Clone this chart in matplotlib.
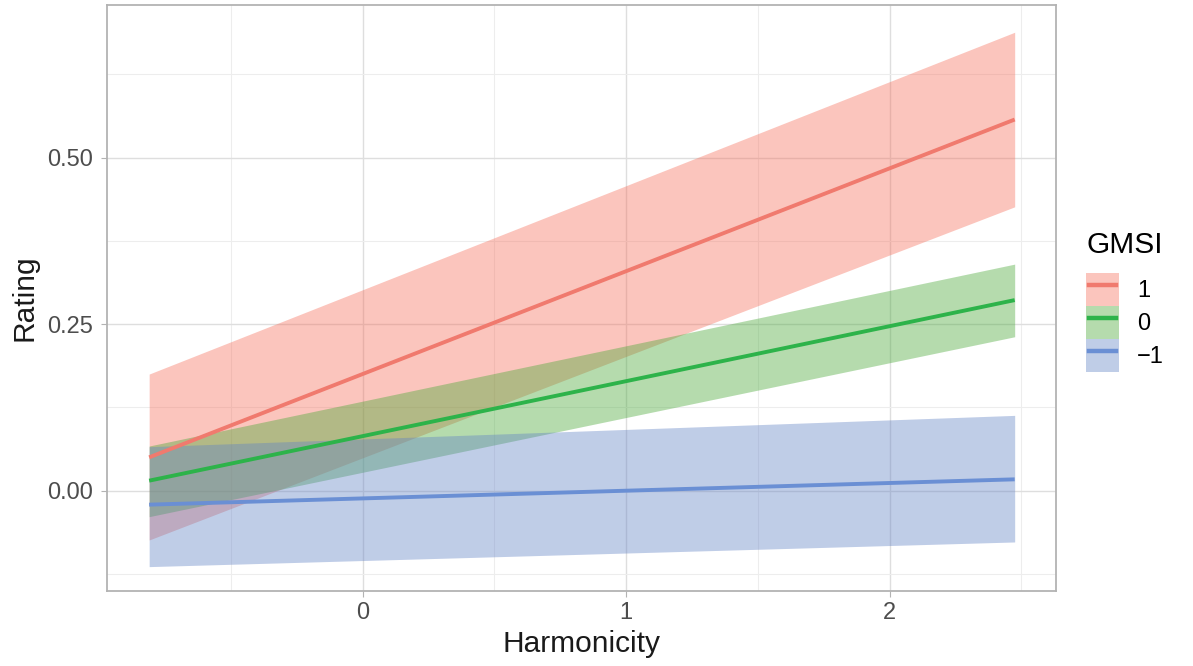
import matplotlib
matplotlib.use("Agg")
import matplotlib.pyplot as plt
from matplotlib.patches import Patch
from matplotlib.lines import Line2D
from matplotlib.legend_handler import HandlerLine2D
from matplotlib.ticker import MultipleLocator

plt.rcParams['font.family'] = ['Liberation Sans', 'DejaVu Sans']

# Data
harmonicity = [-0.81, 2.475]
groups = ["1", "0", "\u22121"]
fit_1 = [0.050, 0.557]
lo_1 = [-0.074, 0.426]
hi_1 = [0.175, 0.688]
fit_0 = [0.015, 0.286]
lo_0 = [-0.039, 0.231]
hi_0 = [0.067, 0.340]
fit_m1 = [-0.021, 0.017]
lo_m1 = [-0.114, -0.077]
hi_m1 = [0.066, 0.113]

fits = [fit_1, fit_0, fit_m1]
los = [lo_1, lo_0, lo_m1]
his = [hi_1, hi_0, hi_m1]
line_colors = ["#F07A6E", "#2DB34A", "#6A8FD4"]
band_colors = ["#F76E5A", "#46A734", "#6182C5"]
band_alpha = 0.4

fig = plt.figure(figsize=(11.93, 6.66), dpi=100)
ax = fig.add_axes([0.0897, 0.1126, 0.7955, 0.88])

for f, lo, hi, lc, bc in zip(fits, los, his, line_colors, band_colors):
    ax.fill_between(harmonicity, lo, hi, color=bc, alpha=band_alpha, lw=0, zorder=2)
for f, lc in zip(fits, line_colors):
    ax.plot(harmonicity, f, color=lc, lw=2.8, solid_capstyle='butt', zorder=3)

ax.set_xlim(-0.970, 2.632)
ax.set_ylim(-0.1506, 0.729)
ax.xaxis.set_minor_locator(MultipleLocator(0.5))
ax.yaxis.set_minor_locator(MultipleLocator(0.125))
ax.set_xticks([0, 1, 2])
ax.set_xticklabels(["0", "1", "2"])
ax.set_yticks([0.0, 0.25, 0.5])
ax.set_yticklabels(["0.00", "0.25", "0.50"])

ax.grid(which='major', color='#DEDEDE', lw=1.0, zorder=0)
ax.grid(which='minor', color='#EDEDED', lw=0.8, zorder=0)
ax.set_axisbelow(True)
ax.tick_params(which='major', length=4, width=0.8, color='#B3B3B3',
               labelsize=17, labelcolor='#4D4D4D', pad=4)
ax.tick_params(axis='y', pad=6)
ax.tick_params(which='minor', length=0)
for s in ax.spines.values():
    s.set_color('#B3B3B3')
    s.set_linewidth(1.3)

ax.set_xlabel("Harmonicity", fontsize=21.5, color='#1A1A1A', labelpad=4)
ax.set_ylabel("Rating", fontsize=21.5, color='#1A1A1A', labelpad=6)

handles = []
for lc, bc in zip(line_colors, band_colors):
    handles.append((Patch(facecolor=bc, alpha=band_alpha, lw=0),
                    Line2D([], [], color=lc, lw=3.2)))
leg = fig.legend(handles, groups, title="GMSI", loc='upper left',
                 bbox_to_anchor=(1086 / 1193, 1 - 231 / 666), frameon=False,
                 fontsize=17, title_fontsize=21.5, handlelength=1.4,
                 handleheight=1.78, labelspacing=0.0, handletextpad=0.75,
                 borderaxespad=0, borderpad=0, numpoints=2,
                 handler_map={Line2D: HandlerLine2D(numpoints=2, marker_pad=0.13)})
leg._legend_box.align = "left"
leg._legend_box.sep = 10

fig.savefig("out.png", dpi=100)
